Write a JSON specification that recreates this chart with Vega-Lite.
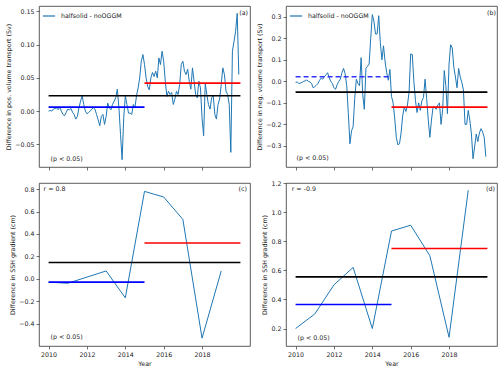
{
  "$schema": "https://vega.github.io/schema/vega-lite/v6.json",
  "padding": {"left": 5, "top": 5, "right": 5, "bottom": 3},
  "background": "white",
  "bounds": "flush",
  "columns": 2,
  "spacing": {"row": 16, "column": 36},
  "resolve": {"scale": {"color": "independent"}, "legend": {"color": "independent"}},
  "config": {
    "font": "DejaVu Sans",
    "view": {"stroke": "#333", "strokeWidth": 0.8},
    "axis": {"domain": false, "grid": false, "ticks": true, "tickSize": 3, "tickColor": "#333", "tickWidth": 0.7,
      "labelFont": "DejaVu Sans", "labelFontSize": 6.3, "labelColor": "#222", "labelPadding": 2,
      "titleFont": "DejaVu Sans", "titleFontSize": 6.3, "titleFontWeight": "normal", "titleColor": "#222", "titlePadding": 3},
    "legend": {"labelFont": "DejaVu Sans", "labelFontSize": 6.3, "labelColor": "#222"},
    "text": {"font": "DejaVu Sans", "fontSize": 6.3, "color": "#222"}
  },
  "datasets": {
    "a": [
      {"x":2010.000,"v":0.000},{"x":2010.083,"v":0.001},{"x":2010.167,"v":0.000},{"x":2010.250,"v":0.003},{"x":2010.333,"v":0.004},{"x":2010.417,"v":0.005},{"x":2010.500,"v":0.002},{"x":2010.583,"v":0.006},{"x":2010.667,"v":0.000},{"x":2010.750,"v":-0.005},{"x":2010.833,"v":-0.007},{"x":2010.917,"v":-0.002},
      {"x":2011.000,"v":0.003},{"x":2011.083,"v":0.002},{"x":2011.167,"v":0.004},{"x":2011.250,"v":-0.002},{"x":2011.333,"v":-0.005},{"x":2011.417,"v":-0.012},{"x":2011.500,"v":-0.008},{"x":2011.583,"v":0.005},{"x":2011.667,"v":0.015},{"x":2011.750,"v":0.023},{"x":2011.833,"v":0.010},{"x":2011.917,"v":0.000},
      {"x":2012.000,"v":-0.004},{"x":2012.083,"v":-0.002},{"x":2012.167,"v":0.000},{"x":2012.250,"v":0.003},{"x":2012.333,"v":0.005},{"x":2012.417,"v":0.003},{"x":2012.500,"v":-0.005},{"x":2012.583,"v":-0.013},{"x":2012.667,"v":-0.022},{"x":2012.750,"v":-0.008},{"x":2012.833,"v":-0.005},{"x":2012.917,"v":-0.020},
      {"x":2013.000,"v":-0.008},{"x":2013.083,"v":0.012},{"x":2013.167,"v":0.005},{"x":2013.250,"v":0.002},{"x":2013.333,"v":0.010},{"x":2013.417,"v":0.015},{"x":2013.500,"v":0.020},{"x":2013.583,"v":0.033},{"x":2013.667,"v":0.005},{"x":2013.750,"v":-0.035},{"x":2013.833,"v":-0.073},{"x":2013.917,"v":-0.010},
      {"x":2014.000,"v":0.023},{"x":2014.083,"v":0.010},{"x":2014.167,"v":-0.003},{"x":2014.250,"v":-0.003},{"x":2014.333,"v":-0.005},{"x":2014.417,"v":0.010},{"x":2014.500,"v":0.005},{"x":2014.583,"v":0.023},{"x":2014.667,"v":0.035},{"x":2014.750,"v":0.050},{"x":2014.833,"v":0.075},{"x":2014.917,"v":0.085},
      {"x":2015.000,"v":0.070},{"x":2015.083,"v":0.050},{"x":2015.167,"v":0.037},{"x":2015.250,"v":0.032},{"x":2015.333,"v":0.050},{"x":2015.417,"v":0.058},{"x":2015.500,"v":0.052},{"x":2015.583,"v":0.060},{"x":2015.667,"v":0.050},{"x":2015.750,"v":0.080},{"x":2015.833,"v":0.070},{"x":2015.917,"v":0.090},
      {"x":2016.000,"v":0.075},{"x":2016.083,"v":0.045},{"x":2016.167,"v":0.022},{"x":2016.250,"v":0.030},{"x":2016.333,"v":0.025},{"x":2016.417,"v":0.028},{"x":2016.500,"v":0.010},{"x":2016.583,"v":0.018},{"x":2016.667,"v":0.030},{"x":2016.750,"v":0.025},{"x":2016.833,"v":0.040},{"x":2016.917,"v":0.070},
      {"x":2017.000,"v":0.075},{"x":2017.083,"v":0.060},{"x":2017.167,"v":0.055},{"x":2017.250,"v":0.063},{"x":2017.333,"v":0.045},{"x":2017.417,"v":0.033},{"x":2017.500,"v":0.065},{"x":2017.583,"v":0.045},{"x":2017.667,"v":0.025},{"x":2017.750,"v":0.020},{"x":2017.833,"v":0.045},{"x":2017.917,"v":0.035},
      {"x":2018.000,"v":-0.010},{"x":2018.083,"v":-0.037},{"x":2018.167,"v":0.042},{"x":2018.250,"v":0.025},{"x":2018.333,"v":0.010},{"x":2018.417,"v":0.003},{"x":2018.500,"v":0.020},{"x":2018.583,"v":0.023},{"x":2018.667,"v":-0.005},{"x":2018.750,"v":-0.012},{"x":2018.833,"v":0.010},{"x":2018.917,"v":0.018},
      {"x":2019.000,"v":0.040},{"x":2019.083,"v":0.065},{"x":2019.167,"v":0.055},{"x":2019.250,"v":0.030},{"x":2019.333,"v":0.025},{"x":2019.417,"v":0.010},{"x":2019.500,"v":-0.062},{"x":2019.583,"v":0.090},{"x":2019.667,"v":0.105},{"x":2019.750,"v":0.120},{"x":2019.833,"v":0.147},{"x":2019.917,"v":0.055}
    ],
    "b": [
      {"x":2010.000,"v":-0.005},{"x":2010.083,"v":-0.003},{"x":2010.167,"v":-0.010},{"x":2010.250,"v":-0.008},{"x":2010.333,"v":-0.005},{"x":2010.417,"v":0.000},{"x":2010.500,"v":0.002},{"x":2010.583,"v":0.006},{"x":2010.667,"v":0.000},{"x":2010.750,"v":-0.003},{"x":2010.833,"v":-0.010},{"x":2010.917,"v":-0.030},
      {"x":2011.000,"v":-0.025},{"x":2011.083,"v":-0.018},{"x":2011.167,"v":-0.010},{"x":2011.250,"v":0.005},{"x":2011.333,"v":0.015},{"x":2011.417,"v":0.010},{"x":2011.500,"v":0.022},{"x":2011.583,"v":0.030},{"x":2011.667,"v":0.040},{"x":2011.750,"v":0.018},{"x":2011.833,"v":0.000},{"x":2011.917,"v":-0.010},
      {"x":2012.000,"v":-0.030},{"x":2012.083,"v":-0.037},{"x":2012.167,"v":-0.015},{"x":2012.250,"v":0.000},{"x":2012.333,"v":0.010},{"x":2012.417,"v":0.040},{"x":2012.500,"v":0.060},{"x":2012.583,"v":0.035},{"x":2012.667,"v":-0.020},{"x":2012.750,"v":-0.150},{"x":2012.833,"v":-0.290},{"x":2012.917,"v":-0.230},
      {"x":2013.000,"v":-0.210},{"x":2013.083,"v":-0.080},{"x":2013.167,"v":0.010},{"x":2013.250,"v":-0.010},{"x":2013.333,"v":-0.020},{"x":2013.417,"v":0.110},{"x":2013.500,"v":-0.060},{"x":2013.583,"v":-0.130},{"x":2013.667,"v":0.060},{"x":2013.750,"v":0.070},{"x":2013.833,"v":0.080},{"x":2013.917,"v":0.200},
      {"x":2014.000,"v":0.310},{"x":2014.083,"v":0.280},{"x":2014.167,"v":0.220},{"x":2014.250,"v":0.220},{"x":2014.333,"v":0.305},{"x":2014.417,"v":0.180},{"x":2014.500,"v":0.100},{"x":2014.583,"v":0.165},{"x":2014.667,"v":0.090},{"x":2014.750,"v":0.040},{"x":2014.833,"v":0.005},{"x":2014.917,"v":0.055},
      {"x":2015.000,"v":-0.070},{"x":2015.083,"v":-0.100},{"x":2015.167,"v":-0.170},{"x":2015.250,"v":-0.260},{"x":2015.333,"v":-0.295},{"x":2015.417,"v":-0.290},{"x":2015.500,"v":-0.240},{"x":2015.583,"v":-0.160},{"x":2015.667,"v":-0.120},{"x":2015.750,"v":-0.140},{"x":2015.833,"v":-0.110},{"x":2015.917,"v":-0.050},
      {"x":2016.000,"v":0.127},{"x":2016.083,"v":0.125},{"x":2016.167,"v":0.000},{"x":2016.250,"v":-0.090},{"x":2016.333,"v":-0.145},{"x":2016.417,"v":-0.100},{"x":2016.500,"v":-0.135},{"x":2016.583,"v":-0.090},{"x":2016.667,"v":-0.075},{"x":2016.750,"v":0.010},{"x":2016.833,"v":-0.080},{"x":2016.917,"v":-0.180},
      {"x":2017.000,"v":-0.260},{"x":2017.083,"v":-0.180},{"x":2017.167,"v":-0.120},{"x":2017.250,"v":-0.120},{"x":2017.333,"v":-0.130},{"x":2017.417,"v":-0.110},{"x":2017.500,"v":-0.100},{"x":2017.583,"v":-0.200},{"x":2017.667,"v":-0.130},{"x":2017.750,"v":0.050},{"x":2017.833,"v":-0.020},{"x":2017.917,"v":-0.150},
      {"x":2018.000,"v":0.080},{"x":2018.083,"v":0.170},{"x":2018.167,"v":0.155},{"x":2018.250,"v":0.065},{"x":2018.333,"v":0.020},{"x":2018.417,"v":-0.030},{"x":2018.500,"v":0.060},{"x":2018.583,"v":0.020},{"x":2018.667,"v":-0.005},{"x":2018.750,"v":-0.040},{"x":2018.833,"v":-0.200},{"x":2018.917,"v":-0.200},
      {"x":2019.000,"v":-0.135},{"x":2019.083,"v":-0.180},{"x":2019.167,"v":-0.245},{"x":2019.250,"v":-0.360},{"x":2019.333,"v":-0.305},{"x":2019.417,"v":-0.245},{"x":2019.500,"v":-0.280},{"x":2019.583,"v":-0.240},{"x":2019.667,"v":-0.220},{"x":2019.750,"v":-0.235},{"x":2019.833,"v":-0.260},{"x":2019.917,"v":-0.350}
    ],
    "c": [
      {"x":2010,"v":-0.03},{"x":2011,"v":-0.04},{"x":2012,"v":0.015},{"x":2013,"v":0.07},{"x":2014,"v":-0.17},
      {"x":2015,"v":0.78},{"x":2016,"v":0.73},{"x":2017,"v":0.53},{"x":2018,"v":-0.53},{"x":2019,"v":0.07}
    ],
    "d": [
      {"x":2010,"v":0.2},{"x":2011,"v":0.3},{"x":2012,"v":0.5},{"x":2013,"v":0.62},{"x":2014,"v":0.2},
      {"x":2015,"v":0.87},{"x":2016,"v":0.91},{"x":2017,"v":0.7},{"x":2018,"v":0.14},{"x":2019,"v":1.15}
    ]
  },
  "concat": [
    {
      "width": 211, "height": 161,
      "encoding": {
        "x": {"type": "quantitative", "scale": {"domain": [2009.5, 2020.5], "nice": false, "zero": false},
          "axis": {"values": [2010, 2012, 2014, 2016, 2018], "labels": false, "title": null}},
        "y": {"type": "quantitative", "scale": {"domain": [-0.084, 0.158], "nice": false, "zero": false},
          "axis": {"values": [-0.05, 0, 0.05, 0.1, 0.15], "format": ".2f", "title": "Difference in pos. volume transport (Sv)"}}
      },
      "layer": [
        {"data": {"name": "a"}, "mark": {"type": "line", "strokeWidth": 1},
          "encoding": {"x": {"field": "x"}, "y": {"field": "v"},
            "color": {"datum": "halfsolid - noOGGM", "scale": {"range": ["#1f77b4"]},
              "legend": {"orient": "top-left", "title": null, "symbolType": "stroke", "symbolSize": 150, "symbolStrokeWidth": 1.2, "offset": 1, "padding": 2, "labelOffset": 5}}}},
        {"data": {"values": [{"x0": 2010, "x1": 2020, "y": 0.023}]}, "mark": {"type": "rule", "color": "black", "strokeWidth": 1.6},
          "encoding": {"x": {"field": "x0"}, "x2": {"field": "x1"}, "y": {"field": "y"}}},
        {"data": {"values": [{"x0": 2010, "x1": 2015, "y": 0.006}]}, "mark": {"type": "rule", "color": "#0000ff", "strokeWidth": 1.6},
          "encoding": {"x": {"field": "x0"}, "x2": {"field": "x1"}, "y": {"field": "y"}}},
        {"data": {"values": [{"x0": 2015, "x1": 2020, "y": 0.042}]}, "mark": {"type": "rule", "color": "#ff0000", "strokeWidth": 1.6},
          "encoding": {"x": {"field": "x0"}, "x2": {"field": "x1"}, "y": {"field": "y"}}},
        {"data": {"values": [{"x": 2020.4, "y": 0.148, "t": "(a)"}]}, "mark": {"type": "text", "align": "right", "baseline": "middle"},
          "encoding": {"x": {"field": "x"}, "y": {"field": "y"}, "text": {"field": "t"}}},
        {"data": {"values": [{"x": 2010.1, "y": -0.0716, "t": "(p < 0.05)"}]}, "mark": {"type": "text", "align": "left", "baseline": "middle"},
          "encoding": {"x": {"field": "x"}, "y": {"field": "y"}, "text": {"field": "t"}}}
      ]
    },
    {
      "width": 211, "height": 161,
      "encoding": {
        "x": {"type": "quantitative", "scale": {"domain": [2009.5, 2020.5], "nice": false, "zero": false},
          "axis": {"values": [2010, 2012, 2014, 2016, 2018], "labels": false, "title": null}},
        "y": {"type": "quantitative", "scale": {"domain": [-0.398, 0.35], "nice": false, "zero": false},
          "axis": {"values": [-0.3, -0.2, -0.1, 0, 0.1, 0.2, 0.3], "format": ".1f", "title": "Difference in neg. volume transport (Sv)"}}
      },
      "layer": [
        {"data": {"name": "b"}, "mark": {"type": "line", "strokeWidth": 1},
          "encoding": {"x": {"field": "x"}, "y": {"field": "v"},
            "color": {"datum": "halfsolid - noOGGM", "scale": {"range": ["#1f77b4"]},
              "legend": {"orient": "top-left", "title": null, "symbolType": "stroke", "symbolSize": 150, "symbolStrokeWidth": 1.2, "offset": 1, "padding": 2, "labelOffset": 5}}}},
        {"data": {"values": [{"x0": 2010, "x1": 2020, "y": -0.05}]}, "mark": {"type": "rule", "color": "black", "strokeWidth": 1.6},
          "encoding": {"x": {"field": "x0"}, "x2": {"field": "x1"}, "y": {"field": "y"}}},
        {"data": {"values": [{"x0": 2010, "x1": 2015, "y": 0.021}]}, "mark": {"type": "rule", "color": "#3333ff", "strokeWidth": 1.6, "strokeDash": [5, 3]},
          "encoding": {"x": {"field": "x0"}, "x2": {"field": "x1"}, "y": {"field": "y"}}},
        {"data": {"values": [{"x0": 2015, "x1": 2020, "y": -0.12}]}, "mark": {"type": "rule", "color": "#ff0000", "strokeWidth": 1.6},
          "encoding": {"x": {"field": "x0"}, "x2": {"field": "x1"}, "y": {"field": "y"}}},
        {"data": {"values": [{"x": 2020.44, "y": 0.318, "t": "(b)"}]}, "mark": {"type": "text", "align": "right", "baseline": "middle"},
          "encoding": {"x": {"field": "x"}, "y": {"field": "y"}, "text": {"field": "t"}}},
        {"data": {"values": [{"x": 2010.05, "y": -0.356, "t": "(p < 0.05)"}]}, "mark": {"type": "text", "align": "left", "baseline": "middle"},
          "encoding": {"x": {"field": "x"}, "y": {"field": "y"}, "text": {"field": "t"}}}
      ]
    },
    {
      "width": 211, "height": 163,
      "encoding": {
        "x": {"type": "quantitative", "scale": {"domain": [2009.5, 2020.5], "nice": false, "zero": false},
          "axis": {"values": [2010, 2012, 2014, 2016, 2018], "format": "d", "title": "Year"}},
        "y": {"type": "quantitative", "scale": {"domain": [-0.6, 0.855], "nice": false, "zero": false},
          "axis": {"values": [-0.4, -0.2, 0, 0.2, 0.4, 0.6, 0.8], "format": ".1f", "title": "Difference in SSH gradient (cm)"}}
      },
      "layer": [
        {"data": {"name": "c"}, "mark": {"type": "line", "strokeWidth": 1, "color": "#1f77b4"},
          "encoding": {"x": {"field": "x"}, "y": {"field": "v"}}},
        {"data": {"values": [{"x0": 2010, "x1": 2020, "y": 0.145}]}, "mark": {"type": "rule", "color": "black", "strokeWidth": 1.6},
          "encoding": {"x": {"field": "x0"}, "x2": {"field": "x1"}, "y": {"field": "y"}}},
        {"data": {"values": [{"x0": 2010, "x1": 2015, "y": -0.03}]}, "mark": {"type": "rule", "color": "#0000ff", "strokeWidth": 1.6},
          "encoding": {"x": {"field": "x0"}, "x2": {"field": "x1"}, "y": {"field": "y"}}},
        {"data": {"values": [{"x0": 2015, "x1": 2020, "y": 0.32}]}, "mark": {"type": "rule", "color": "#ff0000", "strokeWidth": 1.6},
          "encoding": {"x": {"field": "x0"}, "x2": {"field": "x1"}, "y": {"field": "y"}}},
        {"data": {"values": [{"x": 2009.74, "y": 0.8, "t": "r = 0.8"}]}, "mark": {"type": "text", "align": "left", "baseline": "middle"},
          "encoding": {"x": {"field": "x"}, "y": {"field": "y"}, "text": {"field": "t"}}},
        {"data": {"values": [{"x": 2020.34, "y": 0.8, "t": "(c)"}]}, "mark": {"type": "text", "align": "right", "baseline": "middle"},
          "encoding": {"x": {"field": "x"}, "y": {"field": "y"}, "text": {"field": "t"}}},
        {"data": {"values": [{"x": 2010.1, "y": -0.52, "t": "(p < 0.05)"}]}, "mark": {"type": "text", "align": "left", "baseline": "middle"},
          "encoding": {"x": {"field": "x"}, "y": {"field": "y"}, "text": {"field": "t"}}}
      ]
    },
    {
      "width": 211, "height": 163,
      "encoding": {
        "x": {"type": "quantitative", "scale": {"domain": [2009.5, 2020.5], "nice": false, "zero": false},
          "axis": {"values": [2010, 2012, 2014, 2016, 2018], "format": "d", "title": "Year"}},
        "y": {"type": "quantitative", "scale": {"domain": [0.08, 1.2], "nice": false, "zero": false},
          "axis": {"values": [0.2, 0.4, 0.6, 0.8, 1.0, 1.2], "format": ".1f", "title": "Difference in SSH gradient (cm)"}}
      },
      "layer": [
        {"data": {"name": "d"}, "mark": {"type": "line", "strokeWidth": 1, "color": "#1f77b4"},
          "encoding": {"x": {"field": "x"}, "y": {"field": "v"}}},
        {"data": {"values": [{"x0": 2010, "x1": 2020, "y": 0.555}]}, "mark": {"type": "rule", "color": "black", "strokeWidth": 1.6},
          "encoding": {"x": {"field": "x0"}, "x2": {"field": "x1"}, "y": {"field": "y"}}},
        {"data": {"values": [{"x0": 2010, "x1": 2015, "y": 0.365}]}, "mark": {"type": "rule", "color": "#0000ff", "strokeWidth": 1.6},
          "encoding": {"x": {"field": "x0"}, "x2": {"field": "x1"}, "y": {"field": "y"}}},
        {"data": {"values": [{"x0": 2015, "x1": 2020, "y": 0.75}]}, "mark": {"type": "rule", "color": "#ff0000", "strokeWidth": 1.6},
          "encoding": {"x": {"field": "x0"}, "x2": {"field": "x1"}, "y": {"field": "y"}}},
        {"data": {"values": [{"x": 2009.8, "y": 1.16, "t": "r = -0.9"}]}, "mark": {"type": "text", "align": "left", "baseline": "middle"},
          "encoding": {"x": {"field": "x"}, "y": {"field": "y"}, "text": {"field": "t"}}},
        {"data": {"values": [{"x": 2020.39, "y": 1.16, "t": "(d)"}]}, "mark": {"type": "text", "align": "right", "baseline": "middle"},
          "encoding": {"x": {"field": "x"}, "y": {"field": "y"}, "text": {"field": "t"}}},
        {"data": {"values": [{"x": 2010.1, "y": 0.138, "t": "(p < 0.05)"}]}, "mark": {"type": "text", "align": "left", "baseline": "middle"},
          "encoding": {"x": {"field": "x"}, "y": {"field": "y"}, "text": {"field": "t"}}}
      ]
    }
  ]
}
